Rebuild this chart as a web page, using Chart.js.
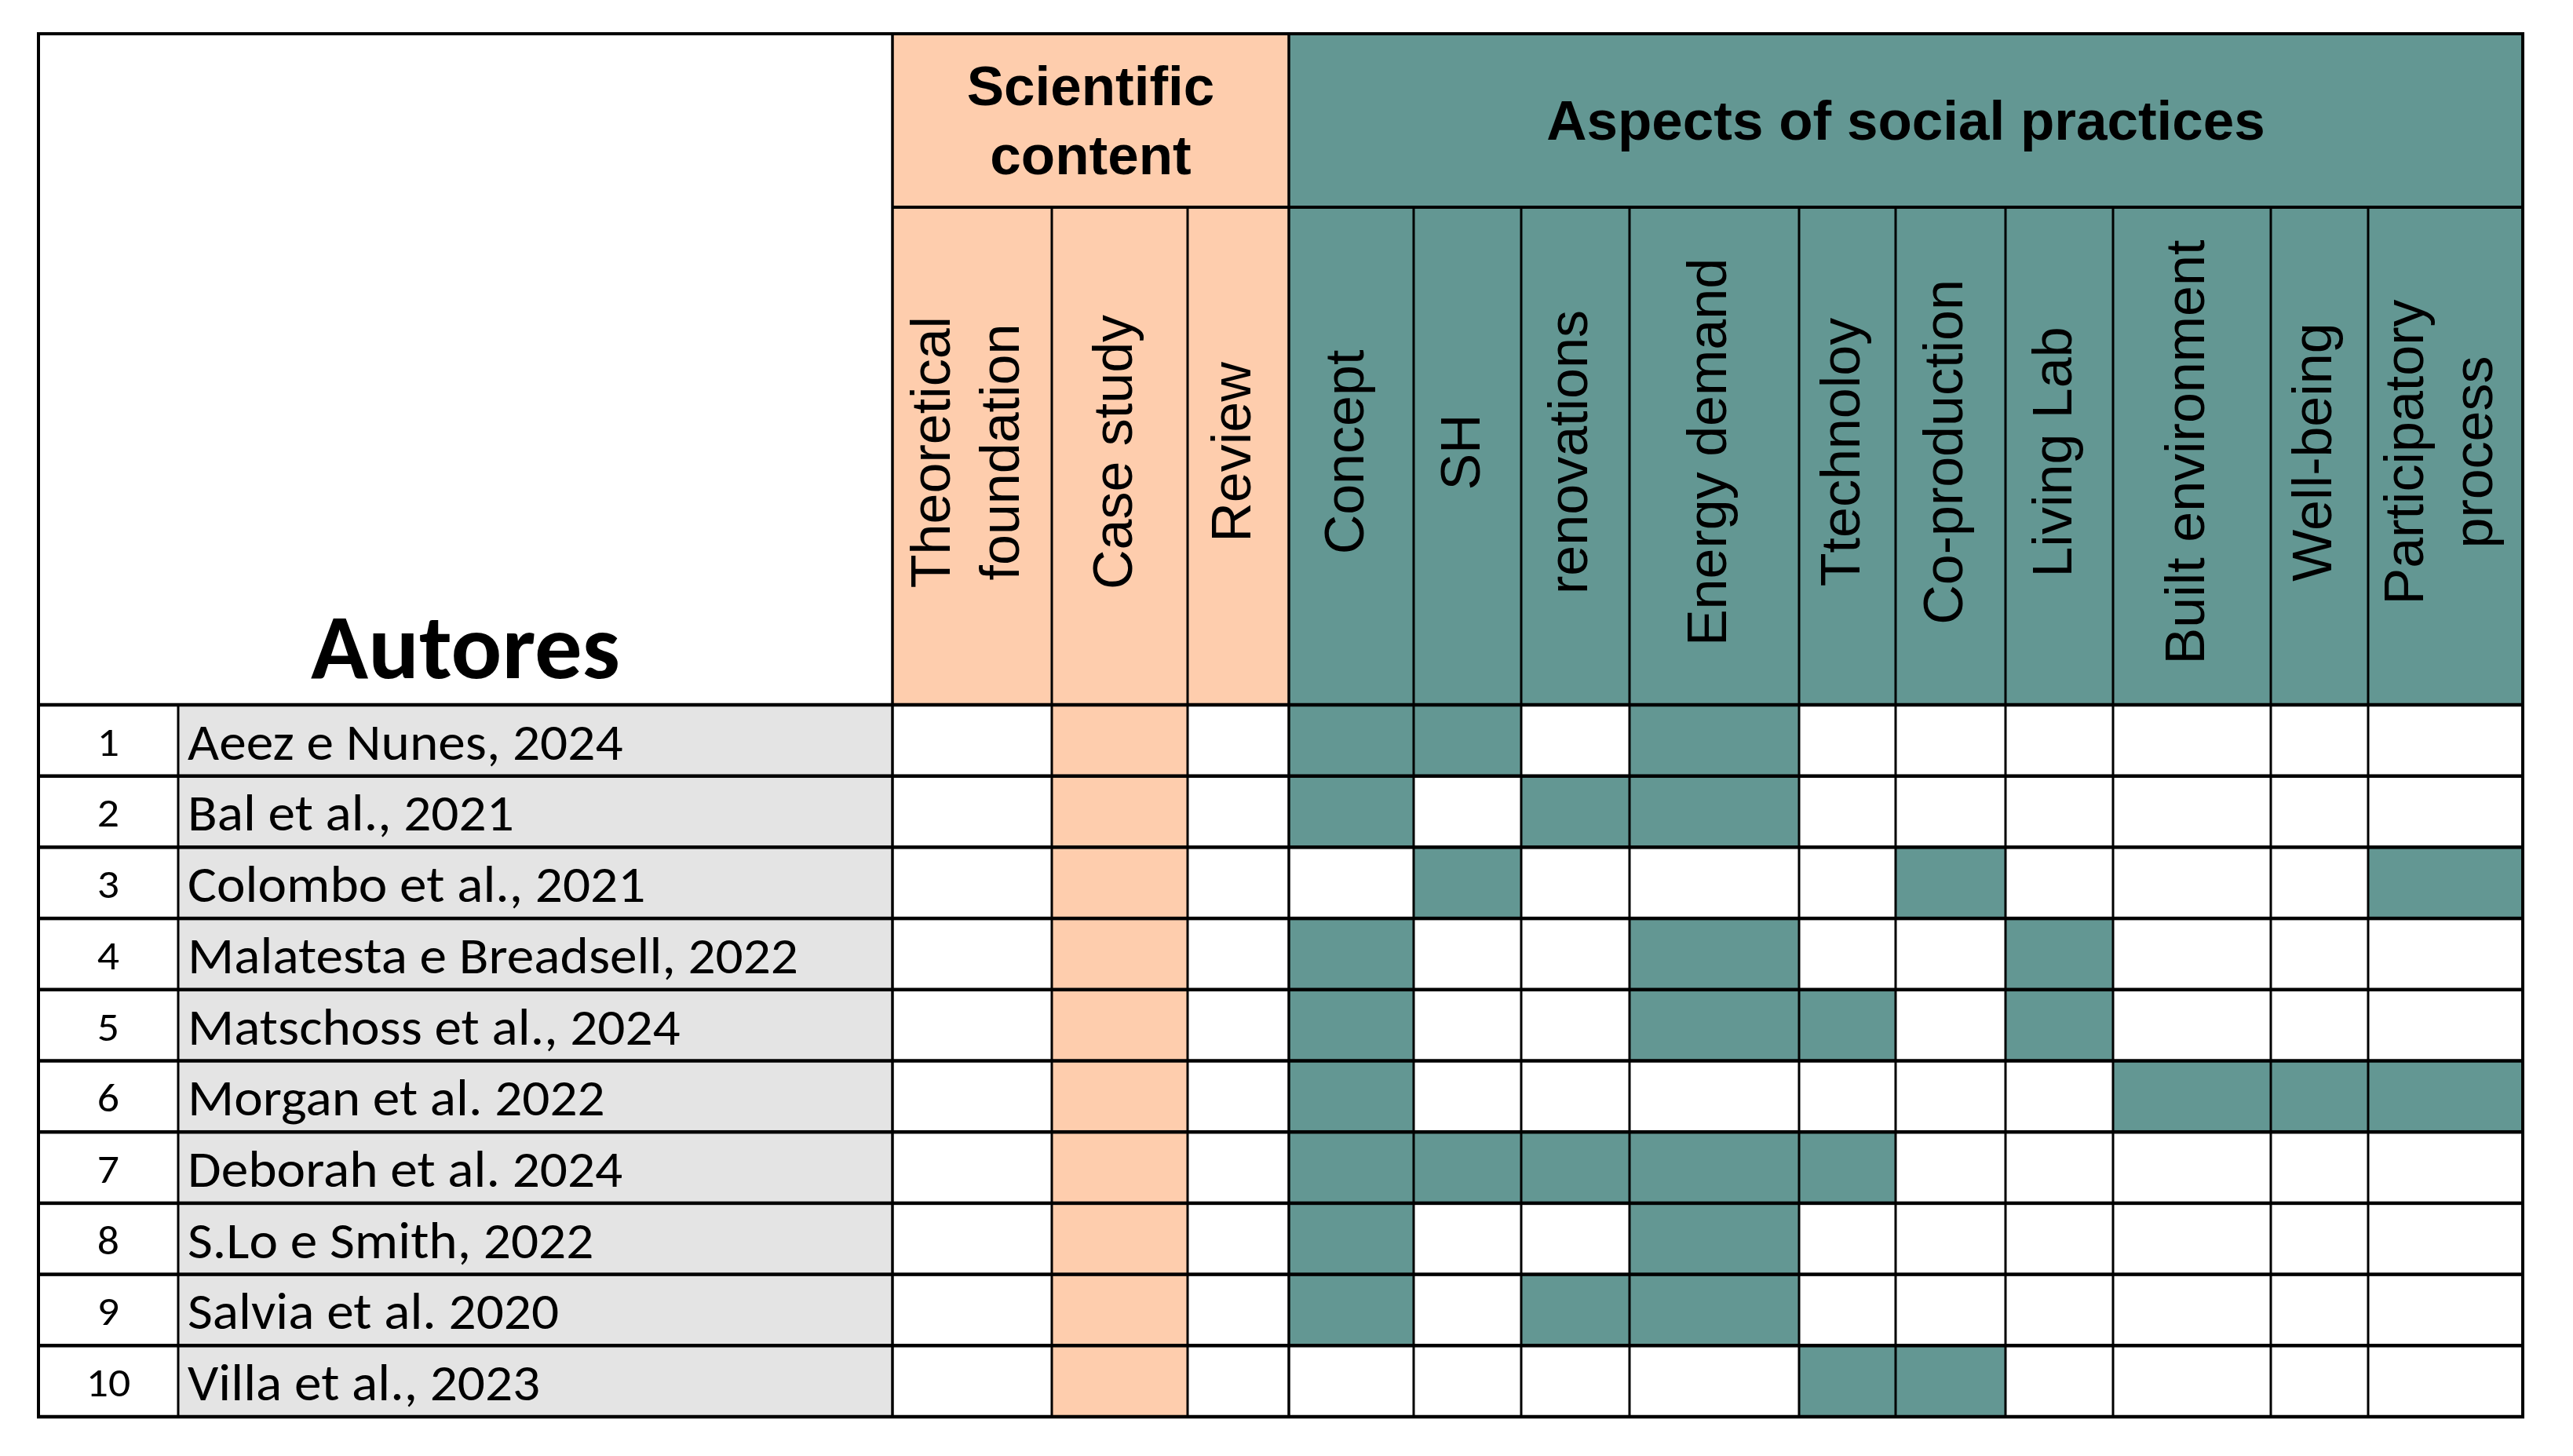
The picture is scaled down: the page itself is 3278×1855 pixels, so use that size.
<!DOCTYPE html>
<html>
<head>
<meta charset="utf-8">
<title>Autores - aspects of social practices</title>
<script src="https://cdn.jsdelivr.net/npm/chart.js@4.4.1/dist/chart.umd.min.js"></script>
<style>
    html, body { margin: 0; padding: 0; background: #fff; }
    #wrap { width: 3278px; height: 1855px; }
</style>
</head>
<body>
<div id="wrap"><canvas id="matrix" width="3278" height="1855"></canvas></div>
<script>
const authors = [
    'Aeez e Nunes, 2024',
    'Bal et al., 2021',
    'Colombo et al., 2021',
    'Malatesta e Breadsell, 2022',
    'Matschoss et al., 2024',
    'Morgan et al. 2022',
    'Deborah et al. 2024',
    'S.Lo e Smith, 2022',
    'Salvia et al. 2020',
    'Villa et al., 2023'
]
const contentTypes = ['Theoretical\nfoundation', 'Case study', 'Review']
const aspects = ['Concept', 'SH', 'renovations', 'Energy demand', 'Ttechnoloy',
    'Co-production', 'Living Lab', 'Built environment', 'Well-being', 'Participatory\nprocess']

// scientific content of every paper
const paperContent = ['Case study', 'Case study', 'Case study', 'Case study', 'Case study',
    'Case study', 'Case study', 'Case study', 'Case study', 'Case study']

// 1 = aspect treated in the paper (same order as aspects)
const aspectHits = [
    [1, 1, 0, 1, 0, 0, 0, 0, 0, 0],
    [1, 0, 1, 1, 0, 0, 0, 0, 0, 0],
    [0, 1, 0, 0, 0, 1, 0, 0, 0, 1],
    [1, 0, 0, 1, 0, 0, 1, 0, 0, 0],
    [1, 0, 0, 1, 1, 0, 1, 0, 0, 0],
    [1, 0, 0, 0, 0, 0, 0, 1, 1, 1],
    [1, 1, 1, 1, 1, 0, 0, 0, 0, 0],
    [1, 0, 0, 1, 0, 0, 0, 0, 0, 0],
    [1, 0, 1, 1, 0, 0, 0, 0, 0, 0],
    [0, 0, 0, 0, 1, 1, 0, 0, 0, 0]
]

// table layout (widths of the columns, header rows)
const numColWidth = 178
const authorColWidth = 910
const contentColWidths = [203, 173, 129]
const aspectColWidths = [159, 137, 138, 216, 123, 140, 137, 201, 124, 197]
const headerTop = 43
const headerSplit = 264

const PEACH = '#FECDAD'
const TEAL = '#639793'
const GREY = '#E4E4E4'
const ARIAL = "'Liberation Sans', Arial, sans-serif"
const CALIBRI = "Carlito, Lato, 'Open Sans', sans-serif"

const edges = [0]
;[numColWidth, authorColWidth, ...contentColWidths, ...aspectColWidths].forEach(w => edges.push(edges[edges.length - 1] + w))

const datasets = []

datasets.push({
    label: 'authors',
    data: authors.map(() => [edges[1], edges[2]]),
    backgroundColor: GREY
})

contentTypes.forEach((type, i) => {
    datasets.push({
        label: type,
        data: paperContent.map(c => c === type ? [edges[2 + i], edges[3 + i]] : null),
        backgroundColor: PEACH
    })
})

aspects.forEach((aspect, j) => {
    datasets.push({
        label: aspect,
        data: aspectHits.map(row => row[j] ? [edges[5 + j], edges[6 + j]] : null),
        backgroundColor: TEAL
    })
})

function capFontSize(ctx, weight, family, capPx) {
    ctx.font = `${weight} 100px ${family}`
    const cap = ctx.measureText('H').actualBoundingBoxAscent
    return capPx * 100 / cap
}

function squeezed(ctx, text, x, y, sx, align) {
    ctx.save()
    ctx.translate(x, y)
    ctx.scale(sx, 1)
    ctx.textAlign = align
    ctx.fillText(text, 0, 0)
    ctx.restore()
}

function vLine(ctx, x, y0, y1, w) { ctx.fillRect(x - w / 2, y0, w, y1 - y0) }
function hLine(ctx, x0, x1, y, w) { ctx.fillRect(x0, y - w / 2, x1 - x0, w) }

const tableFrame = {
    id: 'tableFrame',
    afterDatasetsDraw(chart) {
        const { ctx, chartArea: area, scales: { x, y } } = chart
        const xe = edges.map(v => x.getPixelForValue(v))
        const rowH = (area.bottom - area.top) / authors.length
        const last = xe.length - 1

        ctx.save()

        // header cells
        ctx.fillStyle = PEACH
        ctx.fillRect(xe[2], headerTop, xe[5] - xe[2], area.top - headerTop)
        ctx.fillStyle = TEAL
        ctx.fillRect(xe[5], headerTop, xe[last] - xe[5], area.top - headerTop)

        ctx.fillStyle = '#000'

        // group titles
        const groupMid = (headerTop + headerSplit) / 2
        ctx.font = `bold 71px ${ARIAL}`
        ctx.textAlign = 'center'
        ctx.textBaseline = 'alphabetic'
        ctx.fillText('Scientific', (xe[2] + xe[5]) / 2, groupMid - 20)
        ctx.fillText('content', (xe[2] + xe[5]) / 2, groupMid + 68)
        ctx.fillText('Aspects of social practices', (xe[5] + xe[last]) / 2, groupMid + 24)

        // rotated column titles
        ctx.textBaseline = 'middle'
        const subMid = (headerSplit + area.top) / 2 - 5
        ctx.font = `70px ${ARIAL}`
        ;[...contentTypes, ...aspects].forEach((title, i) => {
            const cx = (xe[2 + i] + xe[3 + i]) / 2 - 4
            const lines = title.split('\n')
            ctx.save()
            ctx.translate(cx, subMid)
            ctx.rotate(-Math.PI / 2)
            lines.forEach((line, k) => {
                ctx.fillText(line, 0, (k - (lines.length - 1) / 2) * 88)
            })
            ctx.restore()
        })

        // "Autores"
        ctx.textBaseline = 'alphabetic'
        const bigSize = capFontSize(ctx, 'bold', CALIBRI, 76)
        ctx.font = `bold ${bigSize}px ${CALIBRI}`
        const bigSx = 394 / ctx.measureText('Autores').width
        squeezed(ctx, 'Autores', (xe[0] + xe[2]) / 2, area.top - 34, bigSx, 'center')

        // authors and numbers
        const txtSize = capFontSize(ctx, 'normal', CALIBRI, 42.3)
        ctx.font = `${txtSize}px ${CALIBRI}`
        const txtSx = 778 / ctx.measureText('Malatesta e Breadsell, 2022').width
        const numSize = capFontSize(ctx, 'normal', CALIBRI, 34)
        authors.forEach((name, i) => {
            const bottom = y.getPixelForValue(i) + rowH / 2
            ctx.font = `${txtSize}px ${CALIBRI}`
            squeezed(ctx, name, xe[1] + 12, bottom - 21, txtSx, 'left')
            ctx.font = `${numSize}px ${CALIBRI}`
            squeezed(ctx, String(i + 1), (xe[0] + xe[1]) / 2, bottom - 26, txtSx, 'center')
        })

        // grid
        for (let i = 0; i <= authors.length; i++) {
            hLine(ctx, xe[0] - 2, xe[last] + 2, area.top + i * rowH, 4.5)
        }
        hLine(ctx, xe[2], xe[last], headerSplit, 4)
        hLine(ctx, xe[0] - 2, xe[last] + 2, headerTop, 4)

        vLine(ctx, xe[0], headerTop, area.bottom, 4)
        vLine(ctx, xe[last], headerTop, area.bottom, 4)
        vLine(ctx, xe[1], area.top, area.bottom, 3)
        vLine(ctx, xe[2], headerTop, area.bottom, 3.5)
        vLine(ctx, xe[5], headerTop, area.bottom, 3.5)
        for (let i = 3; i < last; i++) {
            if (i === 5) continue
            vLine(ctx, xe[i], headerSplit, area.bottom, 3)
        }

        ctx.restore()
    }
}

new Chart(document.getElementById('matrix'), {
    type: 'bar',
    data: { labels: authors, datasets: datasets },
    options: {
        indexAxis: 'y',
        responsive: false,
        animation: false,
        devicePixelRatio: 1,
        layout: { padding: { left: 49, right: 64, top: 898, bottom: 50 } },
        datasets: {
            bar: {
                grouped: false,
                barPercentage: 1,
                categoryPercentage: 1,
                borderWidth: 0
            }
        },
        plugins: {
            legend: { display: false },
            tooltip: { enabled: false }
        },
        scales: {
            x: { type: 'linear', min: 0, max: edges[edges.length - 1], display: false },
            y: { type: 'category', display: false, offset: true }
        }
    },
    plugins: [tableFrame]
})
</script>
</body>
</html>
